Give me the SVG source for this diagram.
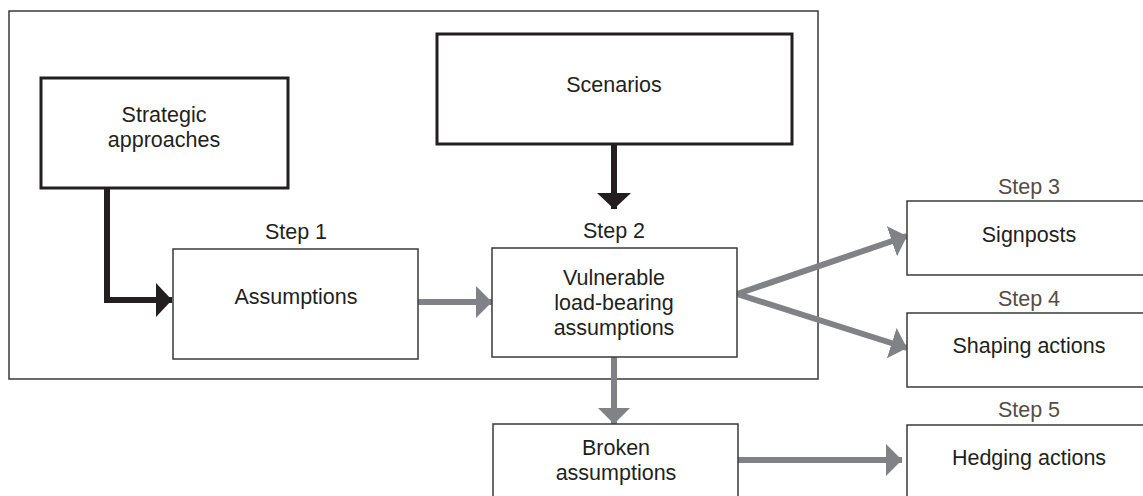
<svg xmlns="http://www.w3.org/2000/svg" width="1143" height="496" viewBox="0 0 1143 496">
<style>
text{font-family:"Liberation Sans",Arial,sans-serif;font-size:21.5px;fill:#231f20;text-anchor:middle}
.step3{fill:#564c45}
.thick{fill:#fff;stroke:#231f20;stroke-width:3}
.thin{fill:#fff;stroke:#3a3a3a;stroke-width:1.5}
.blk{fill:none;stroke:#231f20;stroke-width:6}
.gry{fill:none;stroke:#808285;stroke-width:6}
</style>
<defs>
<marker id="ab" markerUnits="userSpaceOnUse" markerWidth="16" markerHeight="34" refX="16" refY="17" orient="auto" viewBox="0 0 16 34"><path d="M0,0L16,17L0,34Z" fill="#231f20"/></marker>
<marker id="ag" markerUnits="userSpaceOnUse" markerWidth="16" markerHeight="32" refX="16" refY="16" orient="auto" viewBox="0 0 16 32"><path d="M0,0L16,16L0,32Z" fill="#808285"/></marker>
</defs>
<rect id="frame" x="9" y="11" width="809" height="368" fill="none" stroke="#3a3a3a" stroke-width="1.5"/>
<g id="connectors">
<path class="blk" d="M107,188V300H172" marker-end="url(#ab)"/>
<path class="blk" d="M614,144V209" stroke-width="5" marker-end="url(#ab)"/>
<path class="gry" d="M418,302H492" marker-end="url(#ag)"/>
<path class="gry" d="M737,294L907,236" marker-end="url(#ag)"/>
<path class="gry" d="M737,294L907,348" marker-end="url(#ag)"/>
<path class="gry" d="M614,357V424" marker-end="url(#ag)"/>
<path class="gry" d="M738,460H902" marker-end="url(#ag)"/>
</g>
<g id="strategic">
<rect class="thick" x="41" y="78" width="247" height="110"/>
<text x="164" y="122">Strategic</text>
<text x="164" y="147">approaches</text>
</g>
<g id="scenarios">
<rect class="thick" x="437" y="34" width="355" height="110"/>
<text x="614" y="92">Scenarios</text>
</g>
<g id="assumptions">
<text x="296" y="239">Step 1</text>
<rect class="thin" x="173" y="249" width="245" height="110"/>
<text x="296" y="304">Assumptions</text>
</g>
<g id="vulnerable">
<text x="614" y="238">Step 2</text>
<rect class="thin" x="492" y="248" width="245" height="109"/>
<text x="614" y="285">Vulnerable</text>
<text x="614" y="310">load-bearing</text>
<text x="614" y="335">assumptions</text>
</g>
<g id="broken">
<rect class="thin" x="493" y="424" width="245" height="90"/>
<text x="616" y="455">Broken</text>
<text x="616" y="480">assumptions</text>
</g>
<g id="signposts">
<text class="step3" x="1029" y="194">Step 3</text>
<rect class="thin" x="907" y="201" width="250" height="74"/>
<text x="1029" y="242">Signposts</text>
</g>
<g id="shaping">
<text class="step3" x="1029" y="306">Step 4</text>
<rect class="thin" x="907" y="313" width="250" height="74"/>
<text x="1029" y="353">Shaping actions</text>
</g>
<g id="hedging">
<text class="step3" x="1029" y="417">Step 5</text>
<rect class="thin" x="907" y="425" width="250" height="90"/>
<text x="1029" y="465">Hedging actions</text>
</g>
</svg>
